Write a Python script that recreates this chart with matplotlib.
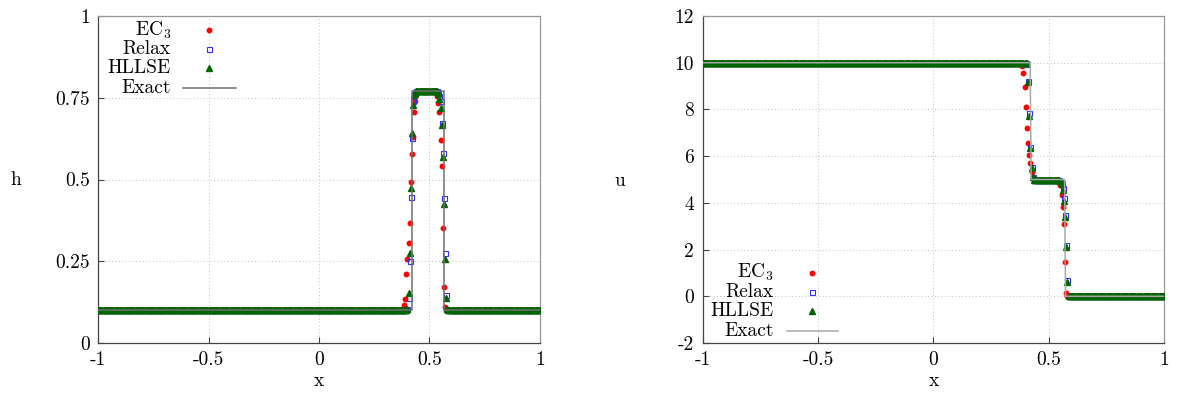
import numpy as np
import matplotlib
matplotlib.use("Agg")
import matplotlib.pyplot as plt

plt.rcParams['font.family'] = ['cmr10', 'DejaVu Serif']
plt.rcParams['mathtext.fontset'] = 'cm'
plt.rcParams['axes.unicode_minus'] = False
plt.rcParams['axes.formatter.use_mathtext'] = True

# grid of the numerical solutions
x = np.linspace(-1, 1, 401)

# ---- h : constant states (left, plateau, right) ----
h_levels = [0.1, 0.772, 0.1]

# transition points (x, value)
h_ec3_px = [0.38, 0.385, 0.39, 0.395, 0.40, 0.405, 0.41, 0.415, 0.42, 0.425, 0.43, 0.435, 0.44,
            0.535, 0.54, 0.545, 0.55, 0.555, 0.56, 0.565, 0.57, 0.575]
h_ec3_pv = [0.105, 0.116, 0.134, 0.21, 0.256, 0.305, 0.367, 0.491, 0.579, 0.631, 0.705, 0.74, 0.758,
            0.755, 0.733, 0.707, 0.621, 0.541, 0.351, 0.172, 0.111, 0.102]
h_rel_px = [0.40, 0.405, 0.41, 0.415, 0.42, 0.425, 0.43, 0.435,
            0.54, 0.545, 0.55, 0.555, 0.56, 0.565, 0.57, 0.575, 0.58]
h_rel_pv = [0.103, 0.139, 0.252, 0.447, 0.626, 0.74, 0.762, 0.768,
            0.765, 0.755, 0.74, 0.672, 0.58, 0.443, 0.274, 0.147, 0.102]
h_hll_px = [0.40, 0.405, 0.41, 0.415, 0.42, 0.425, 0.43, 0.435,
            0.54, 0.545, 0.55, 0.555, 0.56, 0.565, 0.57, 0.575, 0.58]
h_hll_pv = [0.104, 0.152, 0.274, 0.473, 0.641, 0.728, 0.758, 0.766,
            0.762, 0.745, 0.718, 0.667, 0.57, 0.424, 0.256, 0.137, 0.105]
h_exact_x = [-1, 0.419, 0.419, 0.567, 0.567, 1]
h_exact_v = [0.1, 0.1, 0.772, 0.772, 0.1, 0.1]

# ---- u ----
u_levels = [10.0, 5.0, 0.0]

u_ec3_px = [0.38, 0.385, 0.39, 0.395, 0.40, 0.405, 0.41, 0.415, 0.42, 0.425, 0.43, 0.435,
            0.54, 0.545, 0.55, 0.555, 0.56, 0.565, 0.57, 0.575, 0.58]
u_ec3_pv = [9.97, 9.86, 9.55, 8.95, 8.12, 7.19, 6.55, 6.05, 5.69, 5.33, 5.12, 5.04,
            4.96, 4.9, 4.75, 4.34, 3.84, 3.08, 1.48, 0.15, 0.02]
u_rel_px = [0.405, 0.41, 0.415, 0.42, 0.425, 0.43,
            0.55, 0.555, 0.56, 0.565, 0.57, 0.575, 0.58, 0.585]
u_rel_pv = [9.95, 9.23, 7.83, 6.38, 5.52, 5.1,
            4.95, 4.84, 4.62, 4.19, 3.48, 2.2, 0.7, 0.02]
u_hll_px = [0.405, 0.41, 0.415, 0.42, 0.425, 0.43,
            0.55, 0.555, 0.56, 0.565, 0.57, 0.575, 0.58, 0.585]
u_hll_pv = [9.97, 9.19, 7.72, 6.33, 5.48, 5.1,
            4.95, 4.8, 4.55, 4.1, 3.4, 2.1, 0.6, 0.03]
u_exact_x = [-1, 0.419, 0.423, 0.568, 0.572, 1]
u_exact_v = [10, 10, 5, 5, 0, 0]

labels = [r'EC$_3$', 'Relax', 'HLLSE', 'Exact']


def profile(levels, px, pv, mid=0.49):
    # piecewise constant states, then the read-off transition points
    px = np.asarray(px)
    a = px[px < mid].mean()
    b = px[px >= mid].mean()
    y = np.where(x < a, levels[0], np.where(x < b, levels[1], levels[2]))
    for xi, vi in zip(px, pv):
        y[np.argmin(np.abs(x - xi))] = vi
    return y


def style(ax, yticks, ylim):
    ax.set_xlim(-1, 1)
    ax.set_ylim(*ylim)
    ax.set_xticks([-1, -0.5, 0, 0.5, 1])
    ax.set_xticklabels(['-1', '-0.5', '0', '0.5', '1'])
    ax.set_yticks(yticks)
    ax.set_yticklabels([('%g' % t) for t in yticks])
    ax.tick_params(direction='in', length=4, width=0.8, colors='#444444',
                   labelcolor='black', labelsize=14, pad=6)
    ax.grid(True, ls=(0, (1, 2.5)), lw=0.7, color='#c0c0c0')
    for k in ('left', 'bottom'):
        ax.spines[k].set_color('#444444')
    for k in ('top', 'right'):
        ax.spines[k].set_color('#999999')
    for s in ax.spines.values():
        s.set_linewidth(0.9)


def draw(ax, ys, ex, ev, ecol):
    ax.plot(x, ys[0], 'o', ms=3.2, color='red', mec='red', ls='none', zorder=3)
    ax.plot(x, ys[1], 's', ms=3.6, mfc='none', mec='#3030ff', mew=0.8, ls='none', zorder=4)
    ax.plot(x, ys[2], '^', ms=4.2, color='#006400', ls='none', zorder=5)
    ax.plot(ex, ev, '-', color=ecol, lw=1.1, zorder=6)


def legend(ax, xt, xm, xl, rows, ecol):
    for lab, yy in zip(labels, rows):
        ax.text(xt, yy, lab, transform=ax.transAxes, ha='right', va='center', fontsize=14)
    ax.plot([xm], [rows[0]], 'o', ms=3.2, color='red', transform=ax.transAxes)
    ax.plot([xm], [rows[1]], 's', ms=3.6, mfc='none', mec='#3030ff', mew=0.8, transform=ax.transAxes)
    ax.plot([xm], [rows[2]], '^', ms=4.2, color='#006400', transform=ax.transAxes)
    ax.plot(xl, [rows[3], rows[3]], '-', color=ecol, lw=1.1, transform=ax.transAxes)


fig = plt.figure(figsize=(11.78, 3.94), dpi=100)
ax1 = fig.add_axes([0.0832, 0.1294, 0.3752, 0.830])
ax2 = fig.add_axes([0.5964, 0.1294, 0.3920, 0.830])

h_num = [profile(h_levels, h_ec3_px, h_ec3_pv),
         profile(h_levels, h_rel_px, h_rel_pv),
         profile(h_levels, h_hll_px, h_hll_pv)]
u_num = [profile(u_levels, u_ec3_px, u_ec3_pv),
         profile(u_levels, u_rel_px, u_rel_pv),
         profile(u_levels, u_hll_px, u_hll_pv)]

style(ax1, [0, 0.25, 0.5, 0.75, 1], (0, 1))
draw(ax1, h_num, h_exact_x, h_exact_v, '#707070')
legend(ax1, 0.165, 0.251, [0.192, 0.312], [0.957, 0.899, 0.841, 0.780], '#707070')

style(ax2, list(range(-2, 13, 2)), (-2, 12))
draw(ax2, u_num, u_exact_x, u_exact_v, '#a8a8a8')
legend(ax2, 0.154, 0.238, [0.182, 0.293], [0.215, 0.155, 0.098, 0.038], '#a8a8a8')

fig.text(16 / 1178, 1 - 180 / 394, 'h', ha='center', va='center', fontsize=14)
fig.text(319 / 1178, 1 - 381 / 394, 'x', ha='center', va='center', fontsize=14)
fig.text(620 / 1178, 1 - 181 / 394, 'u', ha='center', va='center', fontsize=14)
fig.text(934 / 1178, 1 - 381 / 394, 'x', ha='center', va='center', fontsize=14)

fig.savefig('out.png', dpi=100)
